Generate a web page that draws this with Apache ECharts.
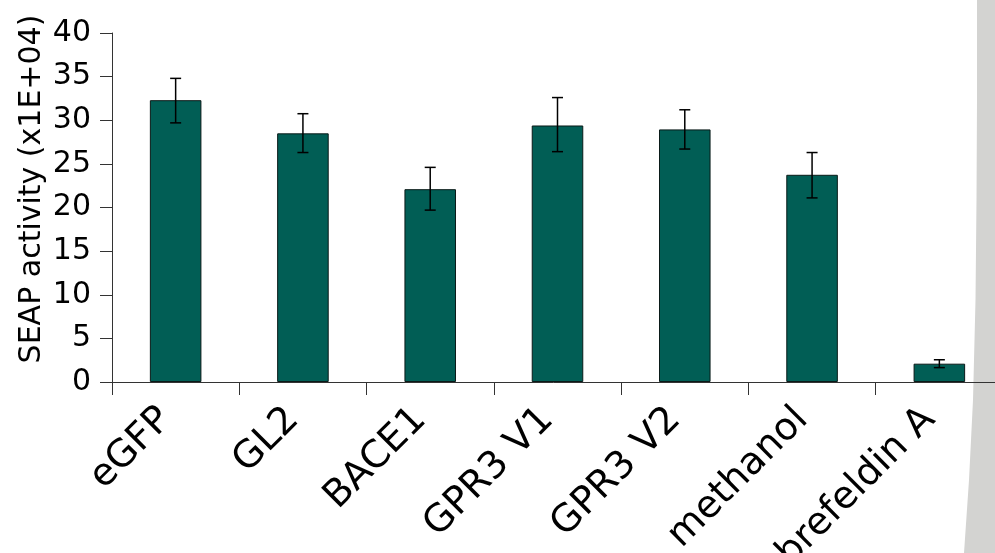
<!DOCTYPE html>
<html>
<head>
<meta charset="utf-8">
<script src="https://cdn.jsdelivr.net/npm/echarts@6/dist/echarts.min.js"></script>
<style>
html,body{margin:0;padding:0;background:#fff;}
#chart{width:995px;height:553px;}
</style>
</head>
<body>
<div id="chart"></div>
<script>
const categories = ['eGFP', 'GL2', 'BACE1', 'GPR3 V1', 'GPR3 V2', 'methanol', 'brefeldin A'];
const means = [32.3, 28.5, 22.1, 29.4, 28.95, 23.75, 2.1];
const errLow = [29.7, 26.3, 19.7, 26.4, 26.7, 21.1, 1.65];
const errHigh = [34.8, 30.75, 24.6, 32.6, 31.2, 26.3, 2.55];
const yTitle = 'SEAP activity (x1E+04)';

const FONT = '"DejaVu Sans", Verdana, sans-serif';
const errData = categories.map((c, i) => [i, errLow[i], errHigh[i]]);

// decorative page-edge shadow on the right
const shadePts = [[977, 0], [977, 100], [976.5, 200], [975.5, 300], [973, 400], [969, 480], [964, 553], [995, 553], [995, 0]];

const chart = echarts.init(document.getElementById('chart'));
chart.setOption({
  animation: false,
  backgroundColor: '#fff',
  grid: { left: 112, top: 33, width: 891, height: 349, containLabel: false, outerBoundsMode: 'none' },
  graphic: [
    {
      type: 'polygon', z: -10, silent: true,
      shape: { points: shadePts },
      style: { fill: '#d3d3d1' }
    },
    {
      type: 'text', x: 32, y: 189, rotation: Math.PI / 2,
      style: { text: yTitle, fontSize: 30, fontFamily: FONT, fill: '#000', align: 'center', verticalAlign: 'middle' }
    }
  ],
  xAxis: {
    type: 'category',
    data: categories,
    axisLine: { lineStyle: { color: '#333', width: 1 } },
    axisTick: { show: true, length: 13, alignWithLabel: false, lineStyle: { color: '#333' } },
    axisLabel: { rotate: 45, fontSize: 38, fontFamily: FONT, color: '#000', margin: 22, padding: [0, 14, 0, 0], interval: 0 }
  },
  yAxis: {
    type: 'value', min: 0, max: 40, interval: 5,
    splitLine: { show: false },
    axisLine: { show: true, lineStyle: { color: '#333', width: 1 } },
    axisTick: { show: true, length: 12, lineStyle: { color: '#333' } },
    axisLabel: { fontSize: 30, fontFamily: FONT, color: '#000', margin: 21 }
  },
  series: [
    {
      type: 'bar',
      data: means,
      barWidth: '40.5%',
      itemStyle: { color: '#015e55', borderColor: '#0a1a18', borderWidth: 1 }
    },
    {
      type: 'custom',
      data: errData,
      z: 5,
      renderItem: function (params, api) {
        const x = api.value(0);
        const lo = api.coord([x, api.value(1)]);
        const hi = api.coord([x, api.value(2)]);
        const hw = 5.5;
        const st = { stroke: '#000', lineWidth: 1.5 };
        return {
          type: 'group',
          children: [
            { type: 'line', shape: { x1: hi[0], y1: hi[1], x2: lo[0], y2: lo[1] }, style: st },
            { type: 'line', shape: { x1: hi[0] - hw, y1: hi[1], x2: hi[0] + hw, y2: hi[1] }, style: st },
            { type: 'line', shape: { x1: lo[0] - hw, y1: lo[1], x2: lo[0] + hw, y2: lo[1] }, style: st }
          ]
        };
      }
    }
  ]
});
</script>
</body>
</html>
